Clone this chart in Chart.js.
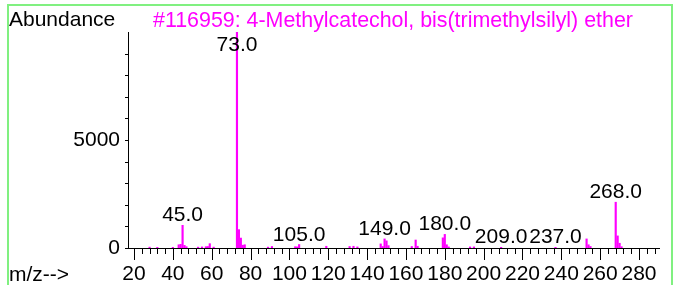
<!DOCTYPE html>
<html>
<head>
<meta charset="utf-8">
<script src="https://cdn.jsdelivr.net/npm/chart.js@4/dist/chart.umd.min.js"></script>
<style>
  html, body { margin: 0; padding: 0; background: #fff; }
  canvas { display: block; }
</style>
</head>
<body>
<canvas id="spectrum" width="675" height="285"></canvas>
<script>
// m/z values and their abundances
const mzValues = [28, 32, 40, 43, 44, 45, 46, 47, 53, 55, 57, 58, 59, 61,
    73, 74, 75, 76, 77, 89, 91, 103, 104, 105, 119, 131, 133, 135,
    147, 148, 149, 150, 151, 163, 165, 166, 179, 180, 181, 182, 193, 195,
    209, 237, 253, 254, 255, 268, 269, 270, 271];
const abundances = [40, 30, 30, 150, 170, 1050, 120, 60, 40, 50, 60, 70, 200, 40,
    9999, 850, 460, 130, 150, 40, 70, 60, 50, 160, 80, 70, 80, 50,
    190, 70, 420, 330, 110, 70, 370, 80, 470, 630, 150, 50, 50, 50,
    30, 30, 420, 150, 70, 2120, 560, 220, 60];

// peaks that get an m/z label
const labelledPeaks = [45, 73, 105, 149, 180, 209, 237, 268];

// axis ticks
const xTickLabels = [20, 40, 60, 80, 100, 120, 140, 160, 180, 200, 220, 240, 260, 280];
const yTickLabels = [0, 5000];

const titleText = "#116959: 4-Methylcatechol, bis(trimethylsilyl) ether";
const FONT_FAMILY = "'Liberation Sans', Arial, sans-serif";

const spectrumDecor = {
    id: "spectrumDecor",
    beforeDraw(chart) {
        const ctx = chart.ctx;
        ctx.save();
        ctx.fillStyle = "#fff";
        ctx.fillRect(0, 0, chart.width, chart.height);
        ctx.restore();
    },
    afterDraw(chart) {
        const ctx = chart.ctx;
        const xs = chart.scales.x;
        const ys = chart.scales.y;
        const area = chart.chartArea;
        ctx.save();

        // green frame
        ctx.fillStyle = "#80f080";
        ctx.fillRect(7, 4, 666, 2);
        ctx.fillRect(7, 4, 2, chart.height);
        ctx.fillRect(671, 4, 2, chart.height);

        // axes
        ctx.fillStyle = "#000";
        const ax = Math.round(area.left);
        const ay = Math.round(area.bottom);
        ctx.fillRect(ax, Math.round(area.top), 1, ay - Math.round(area.top) + 1);
        ctx.fillRect(ax, ay, Math.round(area.right) - ax, 1);

        // y ticks every 1000
        for (let v = 0; v < ys.max; v += 1000) {
            const py = Math.round(ys.getPixelForValue(v));
            ctx.fillRect(ax - 3, py, 3, 1);
        }
        // x ticks every 4, long ones every 20
        for (let v = 20; v <= xs.max; v += 4) {
            const px = Math.round(xs.getPixelForValue(v));
            ctx.fillRect(px, ay, 1, v % 20 === 0 ? 12 : 6);
        }

        // texts
        ctx.font = "21px " + FONT_FAMILY;
        ctx.textBaseline = "alphabetic";
        ctx.textAlign = "left";
        ctx.fillStyle = "#000";
        ctx.fillText("Abundance", 9, 26);
        ctx.fillText("m/z-->", 9, 281);
        ctx.fillStyle = "#ff00ff";
        ctx.font = "21.4px " + FONT_FAMILY;
        ctx.fillText(titleText, 153, 27);

        // peak labels
        ctx.font = "21px " + FONT_FAMILY;
        ctx.fillStyle = "#000";
        ctx.textAlign = "center";
        labelledPeaks.forEach(mz => {
            const i = mzValues.indexOf(mz);
            const px = xs.getPixelForValue(mz);
            const py = ys.getPixelForValue(abundances[i]);
            ctx.fillText(mz.toFixed(1), px, Math.max(py - 4, area.top + 19));
        });
        ctx.restore();
    }
};

new Chart(document.getElementById("spectrum"), {
    type: "bar",
    data: {
        datasets: [{
            data: mzValues.map((mz, i) => ({ x: mz, y: abundances[i] })),
            backgroundColor: "#ff00ff",
            borderWidth: 0,
            barThickness: 1.5
        }]
    },
    options: {
        responsive: false,
        animation: false,
        layout: { padding: { left: 0, top: 32, right: 15, bottom: 0 } },
        plugins: {
            legend: { display: false },
            tooltip: { enabled: false }
        },
        scales: {
            x: {
                type: "linear",
                min: 16.9,
                max: 290.8,
                offset: false,
                grid: { display: false },
                border: { display: false },
                afterBuildTicks: s => { s.ticks = xTickLabels.map(v => ({ value: v })); },
                afterFit: s => { s.height = 37; },
                ticks: {
                    autoSkip: false,
                    maxRotation: 0,
                    padding: 6,
                    color: "#000",
                    callback: v => String(v),
                    font: { family: FONT_FAMILY, size: 21 }
                }
            },
            y: {
                min: 0,
                max: 10000,
                grid: { display: false },
                border: { display: false },
                afterBuildTicks: s => { s.ticks = yTickLabels.map(v => ({ value: v })); },
                afterFit: s => { s.width = 128; },
                ticks: {
                    autoSkip: false,
                    padding: 0,
                    color: "#000",
                    callback: v => String(v),
                    font: { family: FONT_FAMILY, size: 21 }
                }
            }
        }
    },
    plugins: [spectrumDecor]
});
</script>
</body>
</html>
